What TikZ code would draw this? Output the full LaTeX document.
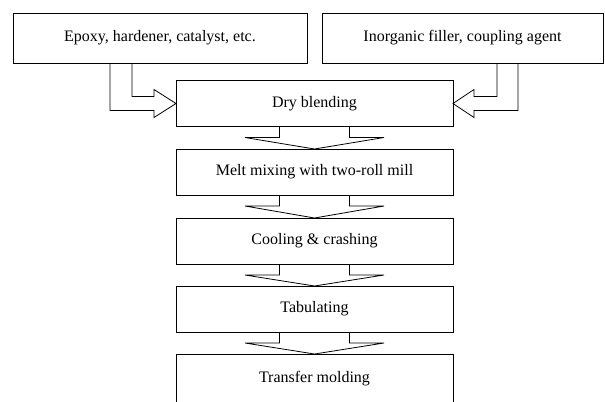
\documentclass[tikz,border=0pt]{standalone}
\usepackage{fontspec}
\setmainfont{Liberation Serif}
\usetikzlibrary{calc}
\begin{document}
\begin{tikzpicture}[x=1bp,y=-1bp,line width=0.8pt,
    source/.style={draw,rectangle,inner sep=0pt,outer sep=0pt,minimum height=50bp,font=\fontsize{16bp}{18bp}\selectfont},
    stage/.style={draw,rectangle,inner sep=0pt,outer sep=0pt,minimum width=277bp,minimum height=46bp,font=\fontsize{16bp}{18bp}\selectfont}]
      \useasboundingbox (0,0) rectangle (605,401);
      \node[source,minimum width=294bp] (epoxy) at (160,38) {Epoxy, hardener, catalyst, etc.};
      \node[source,minimum width=281bp] (filler) at (462.5,38) {Inorganic filler, coupling agent};
      \node[stage] (dry) at (314.5,103.5) {Dry blending};
      \node[stage] (melt) at (314.5,172) {Melt mixing with two-roll mill};
      \node[stage] (cool) at (314.5,241) {Cooling \& crashing};
      \node[stage] (tab) at (314.5,309) {Tabulating};
      \node[stage,minimum height=50bp] (mold) at (314.5,379) {Transfer molding};
      % side inputs
      \draw ([xshift=-50bp]epoxy.south) |- ([xshift=-22bp,yshift=-7bp]dry.west) -- ++(0,7) -- (dry.west)
            -- ++(-22,-14) -- ++(0,7) -| ([xshift=-28bp]epoxy.south);
      \draw ([xshift=55.5bp]filler.south) |- ([xshift=21bp,yshift=-7bp]dry.east) -- ++(0,7) -- (dry.east)
            -- ++(21,-14) -- ++(0,7) -| ([xshift=34.5bp]filler.south);
      % process chain
      \foreach \u/\l in {dry/melt,melt/cool,cool/tab,tab/mold}
        \draw ([xshift=-35bp]\u.south) |- ([xshift=-69.5bp,yshift=-11bp]\u.south) -- (\l.north)
              -- ([xshift=69.5bp,yshift=-11bp]\u.south) -| ([xshift=35bp]\u.south);
    \end{tikzpicture}
\end{document}
